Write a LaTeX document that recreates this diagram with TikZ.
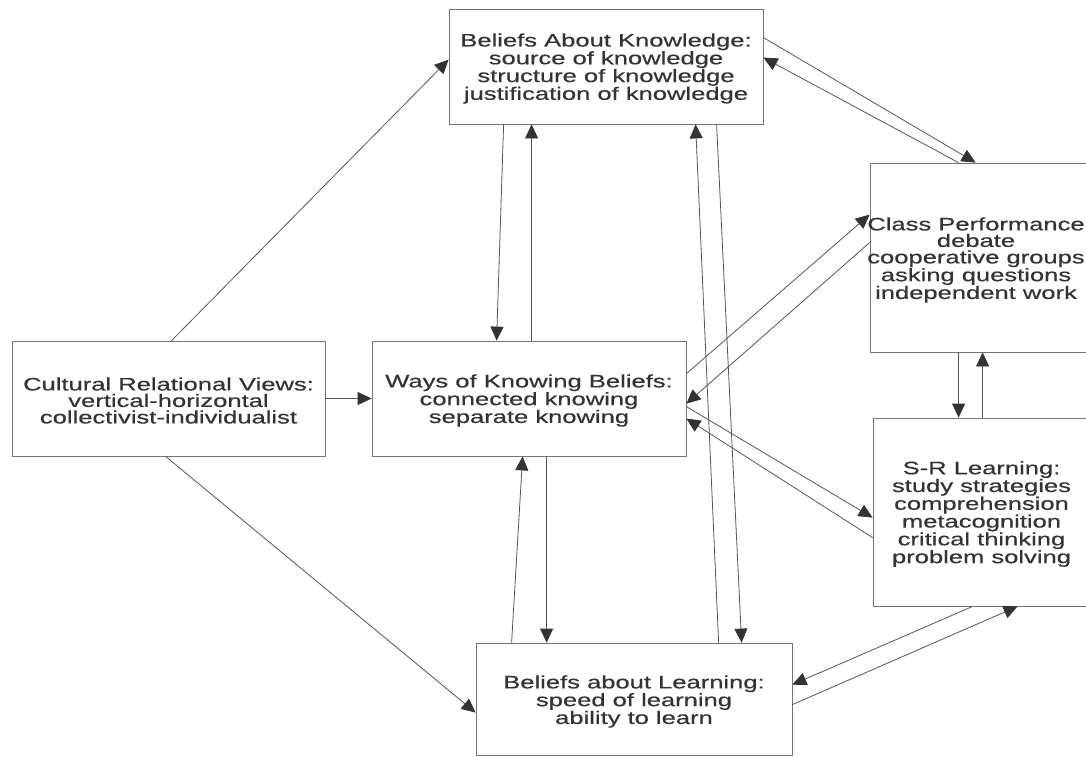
\documentclass[tikz,border=0pt]{standalone}
\usepackage{fontspec}
\setmainfont{Liberation Sans}[FakeStretch=1.42,FakeBold=0.4]
\usetikzlibrary{arrows.meta,calc}
\definecolor{ink}{HTML}{333333}
\definecolor{wire}{HTML}{555555}
\definecolor{frame}{HTML}{747474}
\begin{document}
\begin{tikzpicture}[x=1pt,y=-1pt,
  box/.style={draw=frame, line width=0.8pt, rectangle, inner sep=0pt},
  txt/.style={inner sep=0pt, align=center, text=ink,
    font=\fontsize{18}{16.5}\selectfont},
  link/.style={draw=wire, line width=0.8pt,
    -{Triangle[length=14pt,width=13pt,color=ink]}}]
\useasboundingbox (0,0) rectangle (1086,756);
\fill[white] (0,0) rectangle (1086,756);

% boxes
\node[box, minimum width=314pt, minimum height=115pt] (bak) at (606,66.5) {};
\node[box, minimum width=313pt, minimum height=115pt] (cul) at (168.5,398.5) {};
\node[box, minimum width=314pt, minimum height=115pt] (wok) at (529,398.5) {};
\node[box, minimum width=216pt, minimum height=189pt] (cls) at (978,257.5) {};
\node[box, minimum width=213pt, minimum height=188pt] (sr) at (979.5,512) {};
\node[box, minimum width=316pt, minimum height=112pt] (bal) at (634,699) {};

% box texts
\node[txt] (bak-t) at ($(bak.center)+(0,2)$)
  {Beliefs About Knowledge:\\source of knowledge\\structure of knowledge\\justification of knowledge};
\node[txt] (cul-t) at ($(cul.center)+(0,2)$)
  {Cultural Relational Views:\\vertical-horizontal\\collectivist-individualist};
\node[txt] (wok-t) at ($(wok.center)+(0,2)$)
  {Ways of Knowing Beliefs:\\connected knowing\\separate knowing};
\node[txt] (cls-t) at ($(cls.center)+(-2,2.5)$)
  {Class Performance\\debate\\cooperative groups\\asking questions\\independent work};
\node[txt] (sr-t) at ($(sr.center)+(2,2)$)
  {S-R Learning:\\study strategies\\comprehension\\metacognition\\critical thinking\\problem solving};
\node[txt] (bal-t) at ($(bal.center)+(0,2.5)$)
  {Beliefs about Learning:\\speed of learning\\ability to learn};

% cultural views
\draw[link] ($(cul.north west)+(160,0)$) -- ($(bak.north west)+(0,51)$);
\draw[link] (cul.east) -- (wok.west);
\draw[link] ($(cul.south west)+(154,0)$) -- ($(bal.north west)+(0,70)$);

% knowledge <-> ways of knowing
\draw[link] ($(bak.south west)+(55,0)$) -- ($(wok.north west)+(125,0)$);
\draw[link] ($(wok.north west)+(160,0)$) -- ($(bak.south west)+(83,0)$);

% learning <-> knowledge
\draw[link] ($(bal.north west)+(243,0)$) -- ($(bak.south west)+(247,0)$);
\draw[link] ($(bak.south west)+(268,0)$) -- ($(bal.north west)+(266,0)$);

% learning <-> ways of knowing
\draw[link] ($(bal.north west)+(36,0)$) -- ($(wok.south west)+(151,0)$);
\draw[link] ($(wok.south west)+(175,0)$) -- ($(bal.north west)+(71,0)$);

% knowledge <-> class performance
\draw[link] ($(bak.north east)+(0,29)$) -- ($(cls.north west)+(106,0)$);
\draw[link] ($(cls.north west)+(89,0)$) -- ($(bak.north east)+(0,49)$);

% ways of knowing <-> class performance
\draw[link] ($(wok.north east)+(0,33)$) -- ($(cls.north west)+(0,52)$);
\draw[link] ($(cls.north west)+(0,80)$) -- ($(wok.north east)+(0,63)$);

% ways of knowing <-> S-R learning
\draw[link] ($(wok.north east)+(0,66)$) -- ($(sr.north west)+(0,100)$);
\draw[link] ($(sr.north west)+(0,120)$) -- ($(wok.north east)+(0,78)$);

% class performance <-> S-R learning
\draw[link] ($(cls.south west)+(89,0)$) -- ($(sr.north west)+(86,0)$);
\draw[link] ($(sr.north west)+(110,0)$) -- ($(cls.south west)+(113,0)$);

% S-R learning <-> beliefs about learning
\draw[link] ($(sr.south west)+(100,0)$) -- ($(bal.north east)+(0,42)$);
\draw[link] ($(bal.north east)+(0,62)$) -- ($(sr.south west)+(145,0)$);
\end{tikzpicture}
\end{document}
